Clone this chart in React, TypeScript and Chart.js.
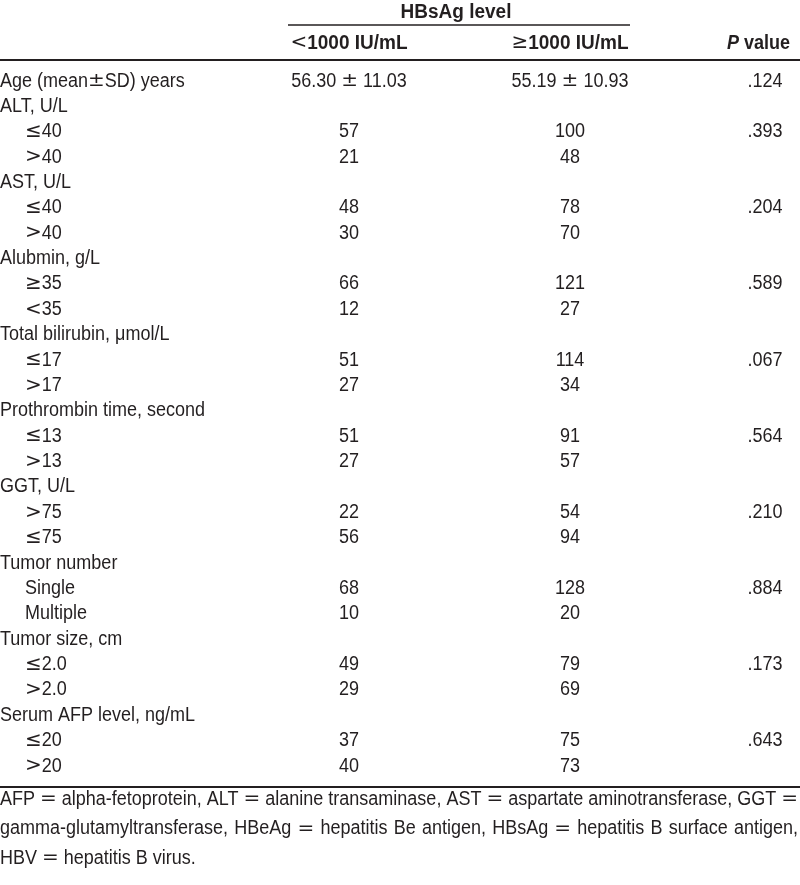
import React, { useEffect, useRef } from "react";
import { Chart, registerables } from "chart.js";

Chart.register(...registerables);

const rowLabels: string[] = [
  "Age (mean±SD) years",
  "ALT, U/L", "≤40", ">40",
  "AST, U/L", "≤40", ">40",
  "Alubmin, g/L", "≥35", "<35",
  "Total bilirubin, μmol/L", "≤17", ">17",
  "Prothrombin time, second", "≤13", ">13",
  "GGT, U/L", ">75", "≤75",
  "Tumor number", "Single", "Multiple",
  "Tumor size, cm", "≤2.0", ">2.0",
  "Serum AFP level, ng/mL", "≤20", ">20",
];

const rowIsSub: boolean[] = [
  false,
  false, true, true,
  false, true, true,
  false, true, true,
  false, true, true,
  false, true, true,
  false, true, true,
  false, true, true,
  false, true, true,
  false, true, true,
];

const lowValues: string[] = [
  "56.30 ± 11.03",
  "", "57", "21",
  "", "48", "30",
  "", "66", "12",
  "", "51", "27",
  "", "51", "27",
  "", "22", "56",
  "", "68", "10",
  "", "49", "29",
  "", "37", "40",
];

const highValues: string[] = [
  "55.19 ± 10.93",
  "", "100", "48",
  "", "78", "70",
  "", "121", "27",
  "", "114", "34",
  "", "91", "57",
  "", "54", "94",
  "", "128", "20",
  "", "79", "69",
  "", "75", "73",
];

const pValues: string[] = [
  ".124",
  "", ".393", "",
  "", ".204", "",
  "", ".589", "",
  "", ".067", "",
  "", ".564", "",
  "", ".210", "",
  "", ".884", "",
  "", ".173", "",
  "", ".643", "",
];

const groupHeader = "HBsAg level";
const colHeaderLowSym = "<";
const colHeaderLow = "1000 IU/mL";
const colHeaderHighSym = "≥";
const colHeaderHigh = "1000 IU/mL";
const pHeaderItalic = "P";
const pHeaderRest = " value";

const footnoteLines: string[] = [
  "AFP = alpha-fetoprotein, ALT = alanine transaminase, AST = aspartate aminotransferase, GGT =",
  "gamma-glutamyltransferase, HBeAg = hepatitis Be antigen, HBsAg = hepatitis B surface antigen,",
  "HBV = hepatitis B virus.",
];
const footnoteJustified: boolean[] = [true, true, false];

const FONT = '"Liberation Sans", Arial, sans-serif';
const SYMFONT = '20px "DejaVu Sans", sans-serif';
const SYMBOLS = "=±<>≤≥";
const INK = "#231f20";
const SX = 0.9;
const SXB = 0.95;

export default function App() {
  const ref = useRef<HTMLCanvasElement | null>(null);

  useEffect(() => {
    document.body.style.margin = "0";
    const canvas = ref.current;
    if (!canvas) return;

    const tablePlugin = {
      id: "tableText",
      afterDraw(chart: any) {
        const ctx = chart.ctx as CanvasRenderingContext2D;
        const xs = chart.scales.x;
        const ys = chart.scales.y;
        const X = (v: number) => xs.getPixelForValue(v);
        const Y = (i: number) => ys.getPixelForValue(i) + 1;
        const colLabel = 0, colIndent = 25, colLow = 349, colHigh = 570, colP = 765;
        const body = `20px ${FONT}`;
        const bold = `bold 20px ${FONT}`;
        const boldItalic = `italic bold 20px ${FONT}`;

        const runs = (t: string) => {
          const out: { s: string; sym: boolean }[] = [];
          for (const ch of t) {
            const sym = SYMBOLS.includes(ch);
            const last = out[out.length - 1];
            if (last && last.sym === sym) last.s += ch;
            else out.push({ s: ch, sym });
          }
          return out;
        };
        const measure = (t: string, f: string, sx: number) => {
          let w = 0;
          for (const r of runs(t)) {
            ctx.font = r.sym ? SYMFONT : f;
            w += ctx.measureText(r.s).width * (r.sym ? 1 : sx);
          }
          return w;
        };
        const text = (t: string, x: number, y: number, align: "left" | "center" | "right", f: string, sx: number) => {
          const w = measure(t, f, sx);
          let cx = align === "left" ? x : align === "center" ? x - w / 2 : x - w;
          for (const r of runs(t)) {
            ctx.save();
            ctx.font = r.sym ? SYMFONT : f;
            ctx.textAlign = "left";
            const k = r.sym ? 1 : sx;
            ctx.translate(cx, y);
            ctx.scale(k, 1);
            ctx.fillText(r.s, 0, 0);
            ctx.restore();
            ctx.font = r.sym ? SYMFONT : f;
            cx += ctx.measureText(r.s).width * k;
          }
        };

        ctx.save();
        ctx.fillStyle = INK;
        ctx.strokeStyle = INK;
        ctx.textBaseline = "middle";

        // rules
        ctx.lineWidth = 1.5;
        ctx.beginPath();
        ctx.moveTo(X(288), 25);
        ctx.lineTo(X(630), 25);
        ctx.stroke();
        ctx.lineWidth = 2;
        ctx.beginPath();
        ctx.moveTo(X(0), 60);
        ctx.lineTo(X(800), 60);
        ctx.stroke();
        ctx.beginPath();
        ctx.moveTo(X(0), 787);
        ctx.lineTo(X(800), 787);
        ctx.stroke();

        // headers
        text(groupHeader, X(456), 12, "center", bold, SXB);

        const drawMixed = (sym: string, rest: string, cx: number, y: number) => {
          const w1 = measure(sym, body, SX);
          const w2 = measure(rest, bold, SXB);
          const start = cx - (w1 + w2) / 2;
          text(sym, start, y, "left", body, SX);
          text(rest, start + w1, y, "left", bold, SXB);
        };
        drawMixed(colHeaderLowSym, colHeaderLow, X(colLow), 43);
        drawMixed(colHeaderHighSym, colHeaderHigh, X(colHigh), 43);

        const PSX = 0.9;
        const restW = measure(pHeaderRest, bold, PSX);
        text(pHeaderRest, X(790), 43, "right", bold, PSX);
        text(pHeaderItalic, X(790) - restW, 43, "right", boldItalic, PSX);

        // body rows
        rowLabels.forEach((lab, i) => {
          const y = Y(i);
          text(lab, X(rowIsSub[i] ? colIndent : colLabel), y, "left", body, SX);
          if (lowValues[i]) text(lowValues[i], X(colLow), y, "center", body, SX);
          if (highValues[i]) text(highValues[i], X(colHigh), y, "center", body, SX);
          if (pValues[i]) text(pValues[i], X(colP), y, "center", body, SX);
        });

        // footnotes
        footnoteLines.forEach((line, k) => {
          const y = 799 + k * 29.5;
          if (!footnoteJustified[k]) {
            text(line, X(0), y, "left", body, SX);
            return;
          }
          const words = line.split(" ");
          const widths = words.map((w) => measure(w, body, SX));
          const total = widths.reduce((a, b) => a + b, 0);
          const gap = (X(798) - X(0) - total) / (words.length - 1);
          let x = X(0);
          words.forEach((w, j) => {
            text(w, x, y, "left", body, SX);
            x += widths[j] + gap;
          });
        });
        ctx.restore();
      },
    };

    const chart = new Chart(canvas, {
      type: "scatter",
      data: { datasets: [] },
      options: {
        responsive: false,
        animation: false,
        layout: { padding: { top: 67.3, bottom: 107.3, left: 0, right: 0 } },
        plugins: { legend: { display: false }, tooltip: { enabled: false } },
        scales: {
          x: { type: "linear", min: 0, max: 800, display: false },
          y: { type: "category", labels: rowLabels, offset: true, display: false },
        },
      },
      plugins: [tablePlugin],
    });
    return () => chart.destroy();
  }, []);

  return <canvas ref={ref} width={800} height={885} style={{ display: "block" }} />;
}
